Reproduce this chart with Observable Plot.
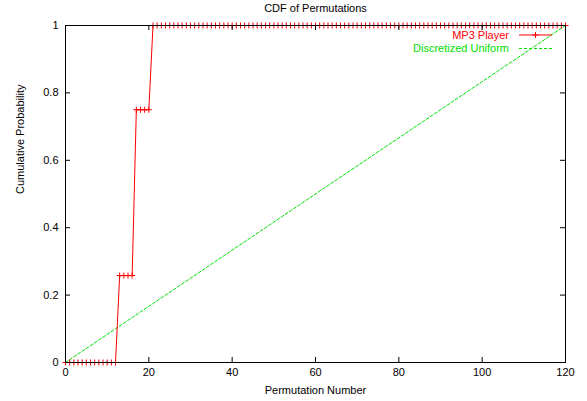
<!DOCTYPE html>
<html><head><meta charset="utf-8">
<script src="https://cdn.jsdelivr.net/npm/d3@7"></script>
<script src="https://cdn.jsdelivr.net/npm/@observablehq/plot@0.6"></script>
<style>body{margin:0;background:#fff}</style>
</head><body><div id="chart"></div>
<script>
const title = "CDF of Permutations";
const xLabel = "Permutation Number";
const yLabel = "Cumulative Probability";
const xTicks = [0, 20, 40, 60, 80, 100, 120];
const yTicks = [0, 0.2, 0.4, 0.6, 0.8, 1];
const yTickLabels = ["0", "0.2", "0.4", "0.6", "0.8", "1"];
const seriesNames = ["MP3 Player", "Discretized Uniform"];
const seriesColors = ["#ff0000", "#00e000"];
// MP3 Player CDF, one value per permutation number 0..120
const mp3Y = [
  0, 0, 0, 0, 0, 0, 0, 0, 0, 0, 0, 0, 0,
  0.258, 0.258, 0.258, 0.258,
  0.75, 0.75, 0.75, 0.75,
  1, 1, 1, 1, 1, 1, 1, 1, 1, 1, 1, 1, 1, 1, 1, 1, 1, 1, 1, 1,
  1, 1, 1, 1, 1, 1, 1, 1, 1, 1, 1, 1, 1, 1, 1, 1, 1, 1, 1, 1,
  1, 1, 1, 1, 1, 1, 1, 1, 1, 1, 1, 1, 1, 1, 1, 1, 1, 1, 1, 1,
  1, 1, 1, 1, 1, 1, 1, 1, 1, 1, 1, 1, 1, 1, 1, 1, 1, 1, 1, 1,
  1, 1, 1, 1, 1, 1, 1, 1, 1, 1, 1, 1, 1, 1, 1, 1, 1, 1, 1, 1
];
const uniformX = [0, 120];
const uniformY = [0, 1];

const mp3 = mp3Y.map((y, i) => ({x: i, y}));
const uni = uniformX.map((x, i) => ({x, y: uniformY[i]}));

const W = 587, H = 401, mL = 65, mR = 22, mT = 25, mB = 39;
const fw = W - mL - mR, fh = H - mT - mB;

const svg = Plot.plot({
  width: W, height: H,
  marginLeft: mL, marginRight: mR, marginTop: mT, marginBottom: mB,
  style: {fontFamily: "'Liberation Sans', Arial, sans-serif", fontSize: "11px", background: "#fff", color: "#000"},
  x: {domain: [0, 120]},
  y: {domain: [0, 1]},
  marks: [
    Plot.line(uni, {x: "x", y: "y", stroke: seriesColors[1], strokeWidth: 1, strokeDasharray: "3,2"}),
    Plot.line(mp3, {x: "x", y: "y", stroke: seriesColors[0], strokeWidth: 1}),
    Plot.dot(mp3, {x: "x", y: "y", symbol: "plus", r: 2.1, stroke: seriesColors[0], strokeWidth: 1}),
    Plot.tickX(xTicks, {x: d => d, insetTop: fh - 5, stroke: "#000"}),
    Plot.tickX(xTicks, {x: d => d, insetBottom: fh - 5, stroke: "#000"}),
    Plot.tickY(yTicks, {y: d => d, insetRight: fw - 5, stroke: "#000"}),
    Plot.tickY(yTicks, {y: d => d, insetLeft: fw - 5, stroke: "#000"}),
    Plot.frame({stroke: "#000", strokeWidth: 1}),
    Plot.axisX({ticks: xTicks, tickSize: 0, tickPadding: 6, label: null, tickFormat: d => String(d)}),
    Plot.axisY({ticks: yTicks, tickSize: 0, tickPadding: 7, label: null, tickFormat: d => yTickLabels[yTicks.indexOf(d)]}),
    Plot.text([title], {frameAnchor: "top", dy: -17, lineAnchor: "middle", fill: "#000"}),
    Plot.text([xLabel], {frameAnchor: "bottom", dy: 28, lineAnchor: "middle", fill: "#000"}),
    Plot.text([yLabel], {frameAnchor: "left", dx: -45, rotate: -90, lineAnchor: "middle", fill: "#000"})
  ]
});

// legend (gnuplot style, top-right inside frame)
const s = d3.select(svg);
const lg = s.append("g").attr("font-family", "'Liberation Sans', Arial, sans-serif").attr("font-size", 11);
const right = W - mR;
seriesNames.forEach((name, i) => {
  const yy = mT + 10 + i * 13.5;
  lg.append("text").attr("x", right - 56).attr("y", yy).attr("dy", "0.35em")
    .attr("text-anchor", "end").attr("fill", seriesColors[i]).text(name);
  const ln = lg.append("line").attr("x1", right - 46).attr("x2", right - 13)
    .attr("y1", yy).attr("y2", yy).attr("stroke", seriesColors[i]).attr("stroke-width", 1);
  if (i === 1) ln.attr("stroke-dasharray", "3,2");
  if (i === 0) {
    const cx = right - 29.5;
    lg.append("path").attr("d", `M${cx - 3},${yy}H${cx + 3}M${cx},${yy - 3}V${yy + 3}`)
      .attr("stroke", seriesColors[0]).attr("fill", "none");
  }
});

document.getElementById("chart").appendChild(svg);
</script>
</body></html>
